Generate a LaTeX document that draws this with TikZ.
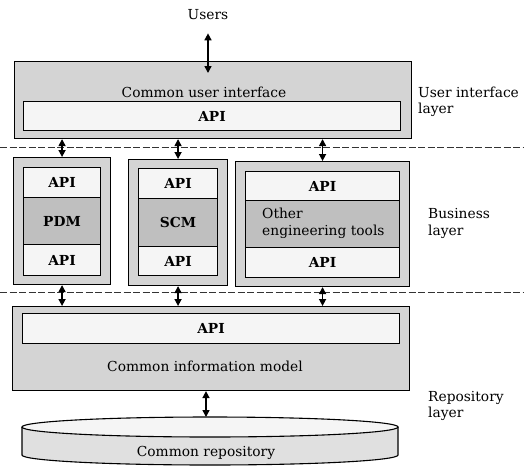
\documentclass[tikz,border=0pt]{standalone}
\usepackage{fontspec}
\setmainfont{DejaVu Serif}
\usetikzlibrary{arrows.meta,calc}
\definecolor{outergray}{gray}{0.83}
\definecolor{midgray}{gray}{0.75}
\definecolor{apiwhite}{gray}{0.96}
\definecolor{cylgray}{gray}{0.88}
\begin{document}
\begin{tikzpicture}[x=1pt,y=-1pt,
  every node/.style={font=\fontsize{13.8}{16.5}\selectfont},
  outerbox/.style={draw, line width=1.1pt, fill=outergray, inner sep=0pt, anchor=north west},
  apibox/.style={draw, line width=1.1pt, fill=apiwhite, inner sep=0pt, anchor=north west, font=\fontsize{13.8}{16.5}\selectfont\bfseries},
  toolbox/.style={draw, line width=1.1pt, fill=midgray, inner sep=0pt, anchor=north west},
  layerlabel/.style={anchor=west, align=left, inner sep=0pt},
  arr/.style={line width=1.5pt, {Triangle[length=7pt,width=7pt]}-{Triangle[length=7pt,width=7pt]}},
  sep/.style={line width=1pt, dash pattern=on 7pt off 2.5pt, gray!40!black}
]
\useasboundingbox[fill=white] (0,0) rectangle (524,466);

% Users
\node[inner sep=1pt] (users) at (208,15) {Users};

% User interface layer
\node[outerbox, minimum width=397pt, minimum height=77pt] (ui) at (14,61) {};
\node[inner sep=0pt] (uitext) at (204,92) {Common user interface};
\node[apibox, minimum width=377pt, minimum height=29pt] (uiapi) at (23,101) {API};

% separators
\draw[sep] (0,147) -- (524,147);
\draw[sep] (0,292) -- (524,292);

% PDM
\node[outerbox, minimum width=97pt, minimum height=127pt] (pdm) at (13,157) {};
\node[apibox, minimum width=77pt, minimum height=30pt] (pdmapi1) at (23,167) {API};
\node[toolbox, minimum width=77pt, minimum height=47pt, font=\fontsize{13.8}{16.5}\selectfont\bfseries] (pdmtool) at (23,197) {PDM};
\node[apibox, minimum width=77pt, minimum height=31pt] (pdmapi2) at (23,244) {API};

% SCM
\node[outerbox, minimum width=99pt, minimum height=126pt] (scm) at (128,159) {};
\node[apibox, minimum width=79pt, minimum height=30pt] (scmapi1) at (138,168) {API};
\node[toolbox, minimum width=79pt, minimum height=48pt, font=\fontsize{13.8}{16.5}\selectfont\bfseries] (scmtool) at (138,198) {SCM};
\node[apibox, minimum width=79pt, minimum height=29pt] (scmapi2) at (138,246) {API};

% Other engineering tools
\node[outerbox, minimum width=174pt, minimum height=125pt] (oth) at (235,161) {};
\node[apibox, minimum width=154pt, minimum height=29pt] (othapi1) at (245,171) {API};
\node[toolbox, minimum width=154pt, minimum height=47pt] (othtool) at (245,200) {};
\node[anchor=west, align=left, inner sep=0pt] (othtext) at (262,223.5) {Other\\engineering tools};
\node[apibox, minimum width=154pt, minimum height=30pt] (othapi2) at (245,247) {API};

% Common information model
\node[outerbox, minimum width=397pt, minimum height=84pt] (info) at (12,306) {};
\node[apibox, minimum width=377pt, minimum height=30pt] (infoapi) at (22,313) {API};
\node[inner sep=0pt] (infotext) at (205,366) {Common information model};

% Repository cylinder
\draw[line width=1.1pt, fill=cylgray] (22,427) -- (22,455) arc[start angle=180, end angle=360, x radius=188pt, y radius=10pt] -- (398,427);
\draw[line width=1.1pt, fill=apiwhite] (210,427) ellipse[x radius=188pt, y radius=10pt];
\coordinate (repotop) at (206,417);
\node[inner sep=0pt] (repotext) at (206,453) {Common repository};

% Layer labels
\node[layerlabel] (l1) at (418,102) {User interface\\layer};
\node[layerlabel] (l2) at (428,223.5) {Business\\layer};
\node[layerlabel] (l3) at (428,406) {Repository\\layer};

% Connectors
\draw[arr] ([yshift=-12pt]users.south) -- ([yshift=-12pt]users.south |- ui.north);
\draw[arr] (ui.south -| pdm.north) -- (pdm.north);
\draw[arr] (ui.south -| scm.north) -- (scm.north);
\draw[arr] (ui.south -| oth.north) -- (oth.north);
\draw[arr] (pdm.south) -- (pdm.south |- info.north);
\draw[arr] (scm.south) -- (scm.south |- info.north);
\draw[arr] (oth.south) -- (oth.south |- info.north);
\draw[arr] (info.south -| repotop) -- (repotop);
\end{tikzpicture}
\end{document}
